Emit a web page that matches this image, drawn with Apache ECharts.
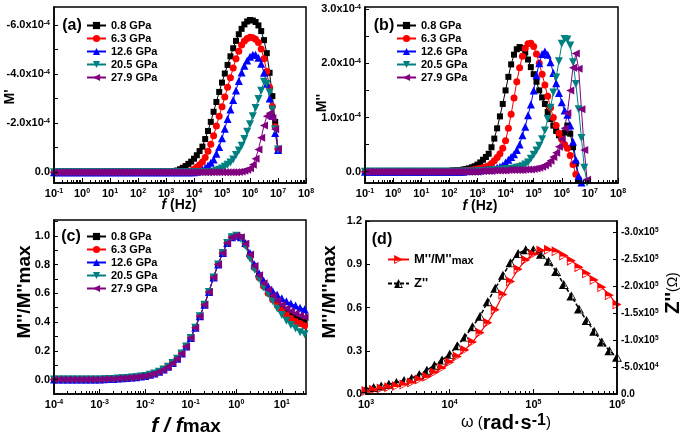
<!DOCTYPE html>
<html><head><meta charset="utf-8">
<script src="https://cdn.jsdelivr.net/npm/echarts@6/dist/echarts.min.js"></script>
<style>html,body{margin:0;padding:0;background:#fff}#c{width:685px;height:442px}</style>
</head><body><div id="c"></div><script>
// ---------- DATA ----------
const seriesNames = ['0.8 GPa','6.3 GPa','12.6 GPa','20.5 GPa','27.9 GPa'];
// frequency grid for panels (a),(b) in Hz
const fAB = [0.1,0.126,0.158,0.2,0.251,0.316,0.398,0.501,0.631,0.794,
 1,1.26,1.58,2,2.51,3.16,3.98,5.01,6.31,7.94,
 10,12.6,15.8,20,25.1,31.6,39.8,50.1,63.1,79.4,
 100,126,158,200,251,316,398,501,631,794,
 1000,1260,1580,2000,2510,3160,3980,5010,6310,7940,
 1e4,1.26e4,1.58e4,2e4,2.51e4,3.16e4,3.98e4,5.01e4,6.31e4,7.94e4,
 1e5,1.26e5,1.58e5,2e5,2.51e5,3.16e5,3.98e5,5.01e5,6.31e5,7.94e5,
 1e6,1.26e6,1.58e6,2e6,2.51e6,3.16e6,3.98e6,5.01e6,6.31e6,7.94e6,
 1e7];
// (a) -M' in units of 1e-4
const aBlack = [0,0,0,0,0,0,0,0,0,0, 0,0,0,0,0,0,0,0,0,0, 0,0,0,0,0,0,0,0,0,0, 0,0,0,0,0,0,0,0,0,0,
 0,0.01,0.02,0.04,0.07,0.12,0.18,0.25,0.34,0.43,
 0.55,0.69,0.86,1.04,1.35,1.68,2.05,2.46,2.86,3.27,
 3.65,4.02,4.37,4.72,5.05,5.35,5.62,5.84,6.02,6.14,
 6.2,6.18,6.12,5.98,5.75,5.38,4.85,4.05,3.1,2.05, 0.92];
const aRed = [0,0,0,0,0,0,0,0,0,0, 0,0,0,0,0,0,0,0,0,0, 0,0,0,0,0,0,0,0,0,0, 0,0,0,0,0,0,0,0,0,0,
 0,0,0,0,0,0,0,0.01,0.03,0.06,
 0.12,0.2,0.3,0.42,0.6,0.85,1.14,1.48,1.88,2.28,
 2.67,3.06,3.46,3.85,4.25,4.62,4.93,5.18,5.34,5.45,
 5.5,5.48,5.42,5.28,5.02,4.62,4.1,3.45,2.68,1.85, 0.95];
const aBlue = [0,0,0,0,0,0,0,0,0,0, 0,0,0,0,0,0,0,0,0,0, 0,0,0,0,0,0,0,0,0,0, 0,0,0,0,0,0,0,0,0,0,
 0,0,0,0,0,0,0,0,0,0,
 0,0.02,0.05,0.1,0.17,0.27,0.38,0.52,0.75,1.03,
 1.38,1.77,2.17,2.55,2.94,3.33,3.72,4.06,4.34,4.55,
 4.7,4.78,4.78,4.66,4.42,4.05,3.6,3.0,2.3,1.6, 0.9];
const aTeal = [0,0,0,0,0,0,0,0,0,0, 0,0,0,0,0,0,0,0,0,0, 0,0,0,0,0,0,0,0,0,0, 0,0,0,0,0,0,0,0,0,0,
 0,0,0,0,0,0,0,0,0,0,
 0,0,0,0,0,0,0,0.02,0.05,0.1,
 0.15,0.22,0.3,0.4,0.52,0.7,0.88,1.08,1.35,1.65,
 1.95,2.28,2.62,2.98,3.32,3.68,3.6,3.25,2.55,1.75, 0.92];
const aPurple = [0,0,0,0,0,0,0,0,0,0, 0,0,0,0,0,0,0,0,0,0, 0,0,0,0,0,0,0,0,0,0, 0,0,0,0,0,0,0,0,0,0,
 0,0,0,0,0,0,0,0,0,0,
 0,0,0,0,0,0,0,0,0,0,
 0,0,0,0,0,0,0.01,0.03,0.06,0.1,
 0.16,0.3,0.55,0.92,1.4,1.9,2.28,2.4,2.2,1.75, 0.95];
// (b) M'' in units of 1e-4 (null = no point)
const bBlack = [0,0,0,0,0,0,0,0,0,0, 0,0,0,0,0,0,0,0,0,0,
 0,0,0,0,0,0,0.01,0.01,0.01,0.01,
 0.01,0.02,0.02,0.03,0.03,0.04,0.05,0.06,0.08,0.1,
 0.13,0.17,0.22,0.27,0.33,0.45,0.61,0.8,1.02,1.25,
 1.5,1.75,1.98,2.16,2.26,2.3,2.28,2.2,2.07,1.93,
 1.8,1.66,1.5,1.37,1.25,1.1,0.97,0.85,0.75,0.67,
 0.62,0.72,0.85,0.7,0.45,0.15,-0.15,null,null,null, null];
const bRed = [0,0,0,0,0,0,0,0,0,0, 0,0,0,0,0,0,0,0,0,0, 0,0,0,0,0,0,0,0,0,0,
 0,0.01,0.01,0.01,0.01,0.01,0.02,0.02,0.03,0.04,
 0.05,0.06,0.07,0.09,0.11,0.15,0.2,0.26,0.33,0.43,
 0.57,0.8,1.06,1.36,1.66,1.92,2.13,2.28,2.36,2.37,
 2.31,2.17,2.0,1.8,1.6,1.39,1.18,1.0,0.85,0.71,
 0.6,0.5,0.43,0.3,0.13,-0.05,null,null,null,null, null];
const bBlue = [0,0,0,0,0,0,0,0,0,0, 0,0,0,0,0,0,0,0,0,0, 0,0,0,0,0,0,0,0,0,0,
 0,0,0,0,0,0,0.01,0.01,0.01,0.02,
 0.02,0.02,0.03,0.03,0.04,0.04,0.05,0.07,0.09,0.12,
 0.17,0.22,0.27,0.32,0.4,0.5,0.67,0.83,1.04,1.24,
 1.5,1.78,2.0,2.17,2.22,2.16,2.02,1.82,1.63,1.45,
 1.28,1.13,1.05,0.85,0.55,0.22,-0.08,-0.2,null,null, null];
const bTeal = [0,0,0,0,0,0,0,0,0,0, 0,0,0,0,0,0,0,0,0,0, 0,0,0,0,0,0,0,0,0,0, 0,0,0,0,0,0,0,0,0,0,
 0,0.01,0.01,0.01,0.02,0.02,0.02,0.03,0.03,0.04,
 0.04,0.05,0.05,0.06,0.07,0.08,0.1,0.13,0.17,0.24,
 0.31,0.39,0.48,0.6,0.76,0.97,1.18,1.46,1.74,2.04,
 2.36,2.45,2.44,2.33,2.02,1.62,1.15,0.62,0.07,-0.2, null];
const bPurple = [0,0,0,0,0,0,0,0,0,0, 0,0,0,0,0,0,0,0,0,0, 0,0,0,0,0,0,0,0,0,0, 0,0,0,0,0,0,0,0,0,0,
 0,0.01,0.01,0.01,0.01,0.01,0.02,0.02,0.02,0.02,
 0.02,0.03,0.03,0.03,0.03,0.03,0.03,0.04,0.04,0.04,
 0.05,0.06,0.07,0.09,0.12,0.15,0.2,0.27,0.35,0.46,
 0.6,0.8,1.08,1.5,1.92,2.18,1.9,1.15,0.4,-0.15, null];
// (c) normalized frequency f/fmax and M''/M''max
const fC = [1e-4,1.26e-4,1.58e-4,2e-4,2.51e-4,3.16e-4,3.98e-4,5.01e-4,6.31e-4,7.94e-4,
 1e-3,1.26e-3,1.58e-3,2e-3,2.51e-3,3.16e-3,3.98e-3,5.01e-3,6.31e-3,7.94e-3,
 0.01,0.0126,0.0158,0.02,0.0251,0.0316,0.0398,0.0501,0.0631,0.0794,
 0.1,0.126,0.158,0.2,0.251,0.316,0.398,0.501,0.631,0.794,
 1,1.26,1.58,2,2.51,3.16,3.98,5.01,6.31,7.94,
 10,12.6,15.8,20,25.1,31.6];
const cRise = [0,0,0,0,0,0,0,0,0,0,
 0,0.003,0.004,0.005,0.007,0.009,0.011,0.014,0.017,0.021,
 0.026,0.033,0.042,0.054,0.07,0.09,0.115,0.145,0.182,0.23,
 0.29,0.36,0.44,0.52,0.61,0.71,0.8,0.88,0.95,0.99, 1.0];
const cBlackFall  = [0.99,0.945,0.865,0.785,0.72,0.66,0.61,0.57,0.535,0.5,0.475,0.45,0.43,0.415,0.405];
const cRedFall    = [0.99,0.94,0.86,0.78,0.71,0.65,0.6,0.555,0.515,0.48,0.45,0.425,0.405,0.39,0.375];
const cBlueFall   = [0.99,0.95,0.88,0.8,0.74,0.69,0.65,0.615,0.59,0.565,0.545,0.53,0.515,0.5,0.49];
const cTealFall   = [0.98,0.93,0.84,0.765,0.7,0.64,0.595,0.545,0.495,0.45,0.41,0.38,0.355,0.33,0.315];
const cPurpleFall = [0.99,0.945,0.87,0.79,0.725,0.67,0.625,0.585,0.55,0.52,0.495,0.475,0.46,0.445,0.435];
// (d) angular frequency, M''/M''max and -Z'' (units 1e5 ohm)
const wD = [1000,1233,1520,1874,2310,2848,3511,4329,5337,6579,8111,
 10000,12328,15199,18738,23101,28480,35112,43288,53367,65793,81113,
 100000,123285,151991,187382,231013,284804,351119,432876,533670,657933,811131,1000000];
const dM = [0.02,0.03,0.038,0.046,0.055,0.066,0.08,0.1,0.12,0.15,0.18,
 0.22,0.26,0.305,0.36,0.425,0.495,0.585,0.69,0.78,0.865,0.93,
 0.97,0.995,1.0,0.99,0.96,0.925,0.88,0.835,0.79,0.74,0.685,0.62];
const dZ = [0.093,0.12,0.149,0.179,0.213,0.251,0.293,0.36,0.44,0.533,0.627,
 0.733,0.893,1.053,1.245,1.44,1.707,1.955,2.198,2.427,2.598,2.667,
 2.667,2.587,2.454,2.267,2.027,1.814,1.574,1.36,1.16,0.96,0.8,0.68];
// tick values
const decAB = [0.1,1,10,100,1e3,1e4,1e5,1e6,1e7,1e8];
const decC = [1e-4,1e-3,1e-2,0.1,1,10];
const decD = [1e3,1e4,1e5,1e6];
const yTicksA = [0,1,2,3,4,5,6], yLabelsA = [0,2,4,6];
const yTicksB = [0,0.5,1,1.5,2,2.5,3], yLabelsB = [0,1,2,3];
const yTicksC = [0,0.1,0.2,0.3,0.4,0.5,0.6,0.7,0.8,0.9,1.0,1.1], yLabelsC = [0,0.2,0.4,0.6,0.8,1.0];
const yLabelsD = [0,0.3,0.6,0.9,1.2];
const yLabelsZ = [0,0.5,1,1.5,2,2.5,3];

// ---------- STYLE ----------
const FONT = '"Liberation Sans", Arial, sans-serif';
const colors = ['#000000','#ff0000','#0000ff','#008080','#800080'];
const symbols = ['rect','circle','triangle','triangle','triangle'];
const rotates = [0,0,0,180,90];
const sizes = [6,7,8,8,8];
const halfTri = 'path://M10,0 L0,20 L10,20 Z M10,0 L20,20 L10,20 Z M12,6.5 L12,18 L16.8,18 Z';

function pairs(xs, ys){ const out=[]; for(let i=0;i<xs.length;i++){ if(ys[i]!==null && ys[i]!==undefined) out.push([xs[i], ys[i]]); } return out; }
function minorLog(lo, hi, max){ const out=[]; for(let e=lo;e<=hi;e++){ for(let m=2;m<=9;m++){ const v=m*Math.pow(10,e); if(v<=max*1.0001) out.push(v);} } return out; }
const rich = {
  b:{fontSize:11,fontWeight:'bold',fontFamily:FONT,color:'#000',verticalAlign:'bottom'},
  s:{fontSize:7,fontWeight:'bold',fontFamily:FONT,color:'#000',verticalAlign:'top'}
};
const richSmall = {
  b:{fontSize:10,fontWeight:'bold',fontFamily:FONT,color:'#000',verticalAlign:'bottom'},
  s:{fontSize:6.5,fontWeight:'bold',fontFamily:FONT,color:'#000',verticalAlign:'top'}
};
function logLabel(v){ const e=Math.round(Math.log10(v)); return '{b|10}{s|'+e+'}'; }

function logX(grid, min, max, majors, minors){
  return [{
    type:'log', logBase:10, gridIndex:grid, min:min, max:max, position:'bottom',
    axisLine:{show:true,onZero:false,lineStyle:{color:'#000',width:1.5}},
    axisTick:{show:true,inside:true,length:5,lineStyle:{color:'#000',width:1},customValues:majors},
    axisLabel:{customValues:majors,formatter:logLabel,rich:rich,margin:5,color:'#000'},
    splitLine:{show:false}, z:5
  },{
    type:'log', logBase:10, gridIndex:grid, min:min, max:max, position:'bottom',
    axisLine:{show:false,onZero:false}, axisLabel:{show:false}, splitLine:{show:false},
    axisTick:{show:true,inside:true,length:3,lineStyle:{color:'#000',width:1},customValues:minors}, z:5
  }];
}
function valY(grid, min, max, ticks, labels, fmt, position, richObj){
  return {
    type:'value', gridIndex:grid, min:min, max:max, position:position||'left',
    axisLine:{show:true,onZero:false,lineStyle:{color:'#000',width:1.5}},
    axisTick:{show:true,inside:true,length:4,lineStyle:{color:'#000',width:1},customValues:ticks},
    axisLabel:{customValues:labels,formatter:fmt,rich:richObj||rich,margin:4,color:'#000'},
    splitLine:{show:false}, z:5
  };
}

const xAxes = [].concat(
  logX(0, 0.1, 1e8, decAB, minorLog(-1,7,1e8)),
  logX(1, 0.1, 1e8, decAB, minorLog(-1,7,1e8)),
  logX(2, 1e-4, 33.9, decC, minorLog(-4,1,33.9)),
  logX(3, 1e3, 1e6, decD, minorLog(3,5,1e6))
);
const yAxes = [
  valY(0, -0.44, 6.73, yTicksA, yLabelsA, v => Math.abs(v)<1e-9 ? '{b|0.0}' : '{b|-'+v.toFixed(1)+'x10}{s|-4}'),
  valY(1, -0.21, 3.04, yTicksB, yLabelsB, v => Math.abs(v)<1e-9 ? '{b|0.0}' : '{b|'+v.toFixed(1)+'x10}{s|-4}'),
  valY(2, -0.1, 1.11, yTicksC, yLabelsC, v => '{b|'+v.toFixed(1)+'}'),
  valY(3, 0, 1.2, yLabelsD, yLabelsD, v => '{b|'+v.toFixed(1)+'}'),
  valY(3, 0, 3.2, yLabelsZ, yLabelsZ, v => Math.abs(v)<1e-9 ? '{b|0.0}' : (v<1 ? '{b|-'+(v*10).toFixed(1)+'x10}{s|4}' : '{b|-'+v.toFixed(1)+'x10}{s|5}'), 'right', richSmall)
];

const aSets = [aBlack,aRed,aBlue,aTeal,aPurple];
const bSets = [bBlack,bRed,bBlue,bTeal,bPurple];
const cFalls = [cBlackFall,cRedFall,cBlueFall,cTealFall,cPurpleFall];
const series = [];
function addPanel(xIdx, yIdx, xs, sets){
  sets.forEach((ys,i)=>{
    series.push({type:'line', name:seriesNames[i], xAxisIndex:xIdx, yAxisIndex:yIdx,
      data:pairs(xs, ys), symbol:symbols[i], symbolSize:sizes[i], symbolRotate:rotates[i],
      showSymbol:true, color:colors[i], lineStyle:{width:1,color:colors[i]},
      itemStyle:{color:colors[i]}, clip:true, animation:false, emphasis:{disabled:true}});
  });
}
addPanel(0, 0, fAB, aSets);
addPanel(2, 1, fAB, bSets);
addPanel(4, 2, fC, cFalls.map(f => cRise.concat(f)));
series.push({type:'line', name:"Z''", xAxisIndex:6, yAxisIndex:4, data:pairs(wD, dZ),
  symbol:halfTri, symbolSize:[10,9], color:'#000', itemStyle:{color:'#000',borderWidth:0},
  lineStyle:{width:1.5,color:'#000',type:[4,2]}, animation:false, emphasis:{disabled:true}});
series.push({type:'line', name:"M''/M''max", xAxisIndex:6, yAxisIndex:3, data:pairs(wD, dM),
  symbol:halfTri, symbolSize:[10,9], symbolRotate:-90, color:'#ff0000', itemStyle:{color:'#ff0000',borderWidth:0},
  lineStyle:{width:1.2,color:'#ff0000'}, animation:false, emphasis:{disabled:true}});

const legTxt = {fontFamily:FONT,fontWeight:'bold',fontSize:11,color:'#000'};
function gpaLegend(left, top){
  return {data:seriesNames, orient:'vertical', left:left, top:top, itemWidth:19, itemHeight:9, itemGap:2,
    textStyle:legTxt, selectedMode:false, padding:0};
}
const legends = [gpaLegend(86,20), gpaLegend(396,20), gpaLegend(86,231)];
legends.push({data:["M''/M''max","Z''"], orient:'vertical', left:387, top:253, itemWidth:21, itemHeight:11, itemGap:11,
  selectedMode:false, padding:0,
  formatter: n => n.charAt(0)==='M' ? "{a|M''/M''}{s|max}" : "{a|Z''}",
  textStyle:{fontFamily:FONT,fontWeight:'bold',fontSize:13,color:'#000',
    rich:{a:{fontFamily:FONT,fontWeight:'bold',fontSize:13,color:'#000',verticalAlign:'top'},
          s:{fontFamily:FONT,fontWeight:'bold',fontSize:11,color:'#000',verticalAlign:'bottom'}}}});

function txt(x,y,text,richObj,rot){
  return {type:'text', x:x, y:y, rotation:rot||0, z:100,
    style:{text:text, rich:richObj, align:'center', verticalAlign:'middle', fill:'#000', font:'bold 14px '+FONT}};
}
const R = (size, extra) => Object.assign({fontFamily:FONT,fontWeight:'bold',fontSize:size,color:'#000'}, extra||{});
const graphics = [
  txt(72,26,'{p|(a)}',{p:R(16)}),
  txt(384,26,'{p|(b)}',{p:R(16)}),
  txt(71,237,'{p|(c)}',{p:R(16)}),
  txt(382,240,'{p|(d)}',{p:R(16)}),
  txt(10,97,"{p|M'}",{p:R(14)},Math.PI/2),
  txt(322,103,"{p|M''}",{p:R(14)},Math.PI/2),
  txt(25,292,"{p|M''/M''max}",{p:R(19)},Math.PI/2),
  txt(330,292,"{p|M''/M''max}",{p:R(19)},Math.PI/2),
  txt(673,293,"{z|Z''}{o|(Ω)}",{z:R(20),o:R(14,{fontWeight:'normal'})},Math.PI/2),
  txt(179,205,'{i|f}{n| (Hz)}',{i:R(14,{fontStyle:'italic'}),n:R(14)}),
  txt(480,206,'{i|f}{n| (Hz)}',{i:R(14,{fontStyle:'italic'}),n:R(14)}),
  txt(186,426,'{i|f / f}{s|max}',{i:R(21,{fontStyle:'italic',verticalAlign:'top'}),s:R(19,{verticalAlign:'bottom'})}),
  txt(506,423,'{w|ω}{p| (}{r|rad·s}{s|-1}{p|)}',{w:R(16,{fontWeight:'normal'}),p:R(15,{fontWeight:'normal'}),r:R(20,{verticalAlign:'bottom'}),s:R(16,{verticalAlign:'top'})})
];

const option = {
  animation:false, backgroundColor:'#fff',
  grid:[
    {left:54, top:7, width:252, height:176, show:true, borderColor:'#000', borderWidth:1.5},
    {left:365, top:7, width:253, height:176, show:true, borderColor:'#000', borderWidth:1.5},
    {left:54, top:220, width:252, height:174, show:true, borderColor:'#000', borderWidth:1.5},
    {left:366, top:221, width:251, height:173, show:true, borderColor:'#000', borderWidth:1.5}
  ],
  xAxis:xAxes, yAxis:yAxes, series:series, legend:legends, graphic:graphics
};
const chart = echarts.init(document.getElementById('c'), null, {renderer:'canvas'});
chart.setOption(option);
</script></body></html>
